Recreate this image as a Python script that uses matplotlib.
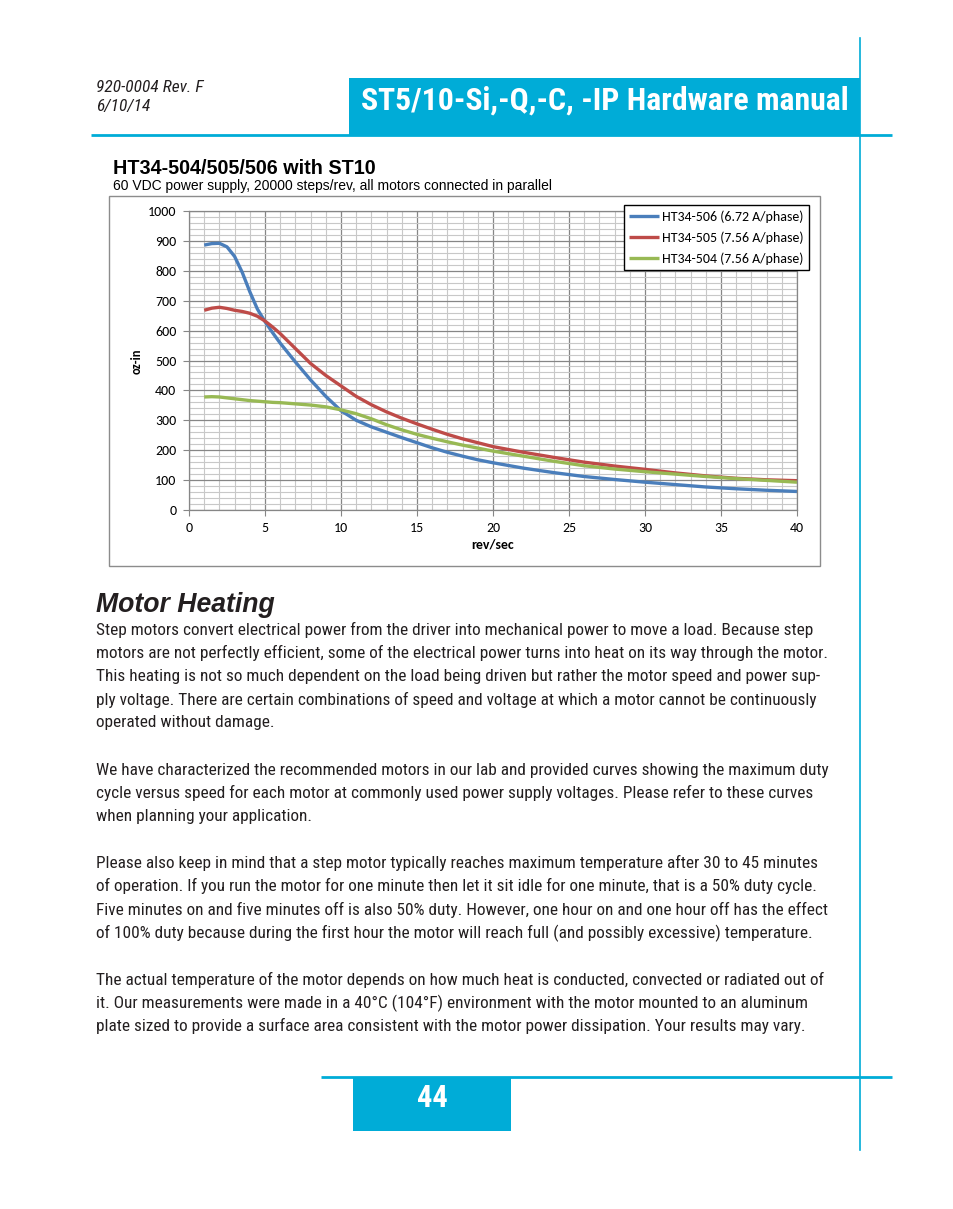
import matplotlib
matplotlib.use('Agg')
import matplotlib.pyplot as plt
from matplotlib import font_manager as fm
from matplotlib.patches import Rectangle
from matplotlib.ticker import MultipleLocator

# ---------------- data ----------------
speed = [1, 1.5, 2, 2.5, 3, 3.5, 4, 4.5, 5, 5.5, 6, 7, 8, 9, 10, 11, 12, 13, 14, 15, 16, 17, 18, 19, 20,
         22, 24, 26, 28, 30, 32, 34, 36, 38, 40]
torque_506 = [886, 891, 892, 880, 848, 795, 730, 672, 630, 593, 558, 495, 435, 380, 332, 300, 278, 260, 242, 225,
              208, 193, 180, 168, 158, 140, 125, 112, 102, 93, 85, 77, 71, 66, 62]
torque_505 = [668, 675, 678, 674, 668, 664, 658, 648, 632, 612, 590, 540, 490, 450, 415, 380, 352, 328, 307, 288,
              270, 253, 238, 225, 212, 193, 176, 160, 147, 136, 124, 114, 106, 101, 98]
torque_504 = [378, 379, 378, 375, 372, 369, 366, 364, 362, 360, 359, 355, 351, 345, 335, 322, 305, 285, 268, 253,
              240, 228, 217, 207, 197, 180, 163, 148, 137, 128, 120, 112, 105, 99, 93]
series_labels = ["HT34-506 (6.72 A/phase)", "HT34-505 (7.56 A/phase)", "HT34-504 (7.56 A/phase)"]
x_ticks = [0, 5, 10, 15, 20, 25, 30, 35, 40]
y_ticks = [0, 100, 200, 300, 400, 500, 600, 700, 800, 900, 1000]

header_doc = "920-0004 Rev. F"
header_date = "6/10/14"
header_title = "ST5/10-Si,-Q,-C, -IP Hardware manual"
chart_title = "HT34-504/505/506 with ST10"
chart_subtitle = "60 VDC power supply, 20000 steps/rev, all motors connected in parallel"
section_title = "Motor Heating"
page_number = "44"
body_lines = [
    (630, "Step motors convert electrical power from the driver into mechanical power to move a load. Because step"),
    (653, "motors are not perfectly efficient, some of the electrical power turns into heat on its way through the motor."),
    (677, "This heating is not so much dependent on the load being driven but rather the motor speed and power sup-"),
    (700, "ply voltage. There are certain combinations of speed and voltage at which a motor cannot be continuously"),
    (723, "operated without damage."),
    (770, "We have characterized the recommended motors in our lab and provided curves showing the maximum duty"),
    (793, "cycle versus speed for each motor at commonly used power supply voltages. Please refer to these curves"),
    (816, "when planning your application."),
    (863, "Please also keep in mind that a step motor typically reaches maximum temperature after 30 to 45 minutes"),
    (886, "of operation. If you run the motor for one minute then let it sit idle for one minute, that is a 50% duty cycle."),
    (910, "Five minutes on and five minutes off is also 50% duty. However, one hour on and one hour off has the effect"),
    (933, "of 100% duty because during the first hour the motor will reach full (and possibly excessive) temperature."),
    (980, "The actual temperature of the motor depends on how much heat is conducted, convected or radiated out of"),
    (1003, "it. Our measurements were made in a 40°C (104°F) environment with the motor mounted to an aluminum"),
    (1026, "plate sized to provide a surface area consistent with the motor power dissipation. Your results may vary."),
]

# ---------------- fonts ----------------
names = {f.name for f in fm.fontManager.ttflist}
def pick(cands):
    for n in cands:
        if n in names:
            return n
    return 'DejaVu Sans'
COND = pick(['Liberation Sans Narrow', 'Roboto Condensed', 'Open Sans Condensed', 'Roboto', 'Liberation Sans'])
ARIAL = pick(['Liberation Sans', 'Arimo', 'DejaVu Sans'])
CAL = pick(['Carlito', 'Lato', 'Open Sans', 'DejaVu Sans'])

CYAN = '#00ACD7'
W, H = 954, 1209
fig = plt.figure(figsize=(W / 100, H / 100), dpi=100)
ov = fig.add_axes([0, 0, 1, 1])
ov.set_xlim(0, W)
ov.set_ylim(H, 0)
ov.axis('off')
renderer = fig.canvas.get_renderer()

def fit(t, target_w):
    bb = t.get_window_extent(renderer)
    t.set_fontsize(t.get_fontsize() * target_w / bb.width)
    return t

# ---------------- page decoration ----------------
ov.add_patch(Rectangle((349, 78), 860 - 349, 57, facecolor=CYAN, edgecolor='none'))
ov.plot([91, 892], [134.5, 134.5], color=CYAN, lw=2, solid_capstyle='butt')
ov.plot([860, 860], [38, 1150], color=CYAN, lw=1.2)
ov.plot([321, 892], [1077, 1077], color=CYAN, lw=2, solid_capstyle='butt')
ov.add_patch(Rectangle((353, 1077), 511 - 353, 1131 - 1077, facecolor=CYAN, edgecolor='none'))

t = ov.text(96, 88, header_doc, family=COND, style='italic', fontsize=11, va='center', ha='left', color='#231f20')
fit(t, 106)
t2 = ov.text(96, 106, header_date, family=COND, style='italic', fontsize=t.get_fontsize(), va='center', ha='left', color='#231f20')
t = ov.text(361, 101, header_title, family=COND, weight='bold', fontsize=24, va='center', ha='left', color='white')
fit(t, 489)
t = ov.text(432, 1098, page_number, family=COND, weight='bold', fontsize=22, va='center', ha='center', color='white')

# chart frame and titles
ov.add_patch(Rectangle((109.5, 195.5), 820 - 109.5, 566 - 195.5, facecolor='white', edgecolor='#8c8c8c', lw=1))
t = ov.text(113, 169, chart_title, family=ARIAL, weight='bold', fontsize=11, va='center', ha='left', color='black')
fit(t, 263)
t = ov.text(113, 186, chart_subtitle, family=ARIAL, fontsize=8, va='center', ha='left', color='black')
fit(t, 442)

# section title and body
t = ov.text(96, 605, section_title, family=ARIAL, weight='bold', style='italic', fontsize=16, va='center', ha='left', color='#231f20')
fit(t, 179)
probe = ov.text(96, 770, body_lines[5][1], family=COND, fontsize=12, va='center', ha='left')
bb = probe.get_window_extent(renderer)
body_size = 12 * 728 / bb.width
probe.remove()
for yy, line in body_lines:
    ov.text(96, yy, line, family=COND, fontsize=body_size, va='center', ha='left', color='#231f20')

# ---------------- chart ----------------
ax = fig.add_axes([189 / W, 1 - 510 / H, (797 - 189) / W, (510 - 211) / H])
ax.set_xlim(0, 40)
ax.set_ylim(0, 1000)
ax.xaxis.set_minor_locator(MultipleLocator(1))
ax.yaxis.set_minor_locator(MultipleLocator(20))
ax.set_xticks(x_ticks)
ax.set_yticks(y_ticks)
ax.grid(which='minor', color='#c8c8c8', lw=0.8)
ax.grid(which='major', color='#868686', lw=0.9)
ax.set_axisbelow(True)
for s in ax.spines.values():
    s.set_color('#868686')
    s.set_linewidth(0.9)
ax.tick_params(which='major', length=4, color='#868686', labelsize=10, pad=5)
ax.tick_params(which='minor', length=0)
for lab in ax.get_xticklabels() + ax.get_yticklabels():
    lab.set_family(CAL)

ax.plot(speed, torque_506, color='#4A7EBB', lw=2.4, label=series_labels[0], solid_capstyle='butt')
ax.plot(speed, torque_505, color='#BE4B48', lw=2.4, label=series_labels[1], solid_capstyle='butt')
ax.plot(speed, torque_504, color='#98B954', lw=2.4, label=series_labels[2], solid_capstyle='butt')

leg = ax.legend(loc='upper right', bbox_to_anchor=(809 / W, 1 - 205 / H), bbox_transform=fig.transFigure,
                fancybox=False, framealpha=1, edgecolor='black', borderaxespad=0,
                prop={'family': CAL, 'size': 10}, handlelength=2.2, handletextpad=0.2,
                labelspacing=0.6, borderpad=0.38)
leg.get_frame().set_linewidth(1.0)

fig.text(137 / W, 1 - 361 / H, 'oz-in', rotation=90, family=CAL, weight='bold', fontsize=9,
         ha='center', va='center')
fig.text(493 / W, 1 - 545 / H, 'rev/sec', family=CAL, weight='bold', fontsize=10,
         ha='center', va='center')

fig.savefig('out.png', dpi=100, facecolor='white')
